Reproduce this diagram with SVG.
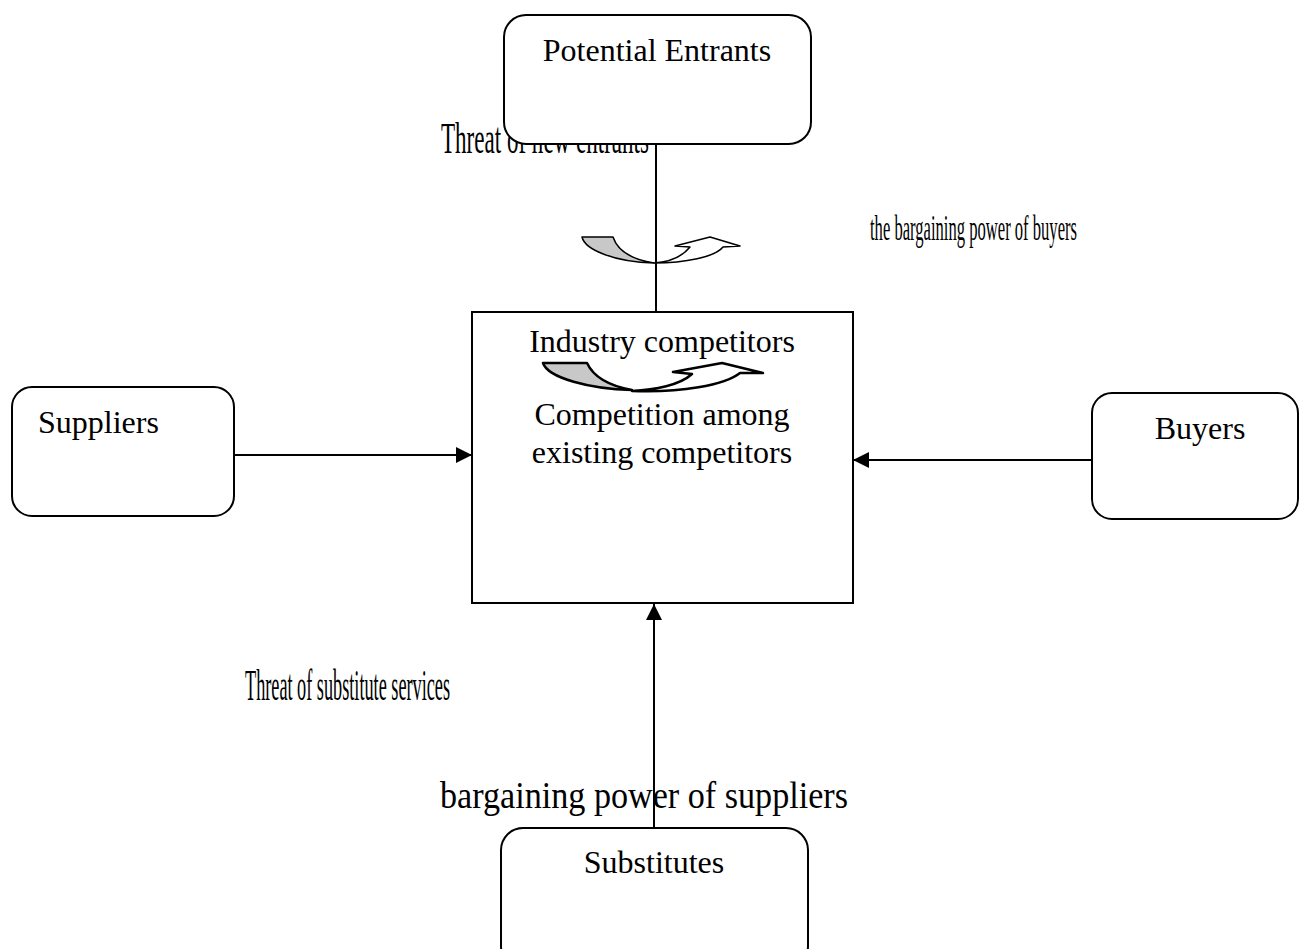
<svg xmlns="http://www.w3.org/2000/svg" width="1299" height="949" viewBox="0 0 1299 949">
<style>
.box{fill:#fff;stroke:#000;stroke-width:2}
.t{font-family:"Liberation Serif","Times New Roman",serif;font-size:32px;fill:#000}
.c{font-family:"Liberation Serif","Times New Roman",serif;fill:#000}
.ln{stroke:#000;stroke-width:2;fill:none}
.gray{fill:#c8c8c8;stroke:#000;stroke-linejoin:round}
.wht{fill:#fff;stroke:#000;stroke-linejoin:round}
</style>
<defs>
<marker id="ah" markerWidth="16" markerHeight="16" refX="16" refY="8" orient="auto" markerUnits="userSpaceOnUse" viewBox="0 0 16 16">
<path d="M0,0 L16,8 L0,16 Z" fill="#000"/>
</marker>
</defs>
<rect width="1299" height="949" fill="#fff"/>
<g id="labels">
<text class="c" transform="translate(441,153) scale(1,2)" x="0" y="0" font-size="22.5" textLength="208" lengthAdjust="spacingAndGlyphs">Threat of new entrants</text>
<text class="c" transform="translate(870,240) scale(1,2)" x="0" y="0" font-size="18" textLength="207" lengthAdjust="spacingAndGlyphs">the bargaining power of buyers</text>
<text class="c" transform="translate(245,700) scale(1,2)" x="0" y="0" font-size="22" textLength="205" lengthAdjust="spacingAndGlyphs">Threat of substitute services</text>
<text class="c" x="440" y="808" font-size="38" textLength="408" lengthAdjust="spacingAndGlyphs">bargaining power of suppliers</text>
</g>
<g id="connectors">
<line class="ln" x1="656" y1="144" x2="656" y2="312"/>
<line class="ln" x1="234" y1="455" x2="472" y2="455" marker-end="url(#ah)"/>
<line class="ln" x1="1092" y1="460" x2="853" y2="460" marker-end="url(#ah)"/>
<line class="ln" x1="654" y1="828" x2="654" y2="604" marker-end="url(#ah)"/>
</g>
<g id="threat-arrow">
<path class="gray" stroke-width="1.5" d="M582,237 L613,237 C618,252 635,260 654,263 C615,262 585,250 582,237 Z"/>
<path class="wht" stroke-width="1.5" d="M654,263 C685,263 715,257 723,247 L740,246 L710,237 L675,246 L690,247 C682,257 668,262 654,263 Z"/>
</g>
<g id="node-potential-entrants">
<rect class="box" x="504" y="15" width="307" height="129" rx="22"/>
<text class="t" x="657" y="61" text-anchor="middle">Potential Entrants</text>
</g>
<g id="node-industry">
<rect class="box" x="472" y="312" width="381" height="291"/>
<text class="t" x="662" y="352" text-anchor="middle">Industry competitors</text>
<path class="gray" stroke-width="2.5" d="M543,363 L587,363 C594,378 610,386 632,390 C590,389 548,378 543,363 Z"/>
<path class="wht" stroke-width="2.5" d="M632,391 C680,393 725,385 740,373 L763,373 L722,363 L673,372 L692,374 C680,385 655,390 632,391 Z"/>
<text class="t" x="662" y="425" text-anchor="middle">Competition among</text>
<text class="t" x="662" y="463" text-anchor="middle">existing competitors</text>
</g>
<g id="node-suppliers">
<rect class="box" x="12" y="387" width="222" height="129" rx="20"/>
<text class="t" x="38" y="433">Suppliers</text>
</g>
<g id="node-buyers">
<rect class="box" x="1092" y="393" width="206" height="126" rx="20"/>
<text class="t" x="1200" y="439" text-anchor="middle">Buyers</text>
</g>
<g id="node-substitutes">
<rect class="box" x="501" y="828" width="307" height="140" rx="22"/>
<text class="t" x="654" y="873" text-anchor="middle">Substitutes</text>
</g>
</svg>
